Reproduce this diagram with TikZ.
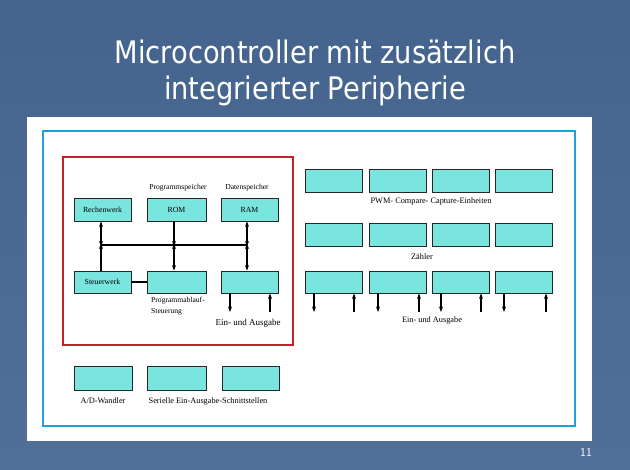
\documentclass[tikz,border=0pt]{standalone}
\usepackage{fontspec}
\setmainfont{Liberation Serif}
\newfontfamily\titlefont[FakeStretch=0.88]{DejaVu Sans}
\usetikzlibrary{arrows.meta}
\definecolor{slidebg}{RGB}{80,112,154}
\definecolor{slidebgdark}{RGB}{68,100,142}
\definecolor{boxfill}{RGB}{122,228,222}
\definecolor{frameblue}{RGB}{30,160,220}
\definecolor{framered}{RGB}{200,30,40}
\tikzset{
  box/.style={draw=black!85, fill=boxfill, line width=0.8pt, inner sep=0pt,
    minimum width=57pt, minimum height=23pt, font=\fontsize{7.8}{8}\selectfont},
  lbl/.style={inner sep=0pt, font=\fontsize{8.3}{9}\selectfont},
  slbl/.style={inner sep=0pt, font=\fontsize{7.6}{10.5}\selectfont},
  arr/.style={line width=1.5pt, -{Stealth[length=5.5pt,width=4pt]}},
  darr/.style={line width=1.5pt, {Stealth[length=5.5pt,width=4pt]}-{Stealth[length=5.5pt,width=4pt]}},
  ttl/.style={inner sep=0pt, text=white, font=\titlefont\fontsize{31}{36}\selectfont},
}
\begin{document}
\begin{tikzpicture}[x=1pt,y=-1pt]
\useasboundingbox (0,0) rectangle (630,470);
\shade[top color=slidebgdark, bottom color=slidebg] (0,0) rectangle (630,470);
% title
\node[ttl] (t1) at (315,52) {Microcontroller mit zusätzlich};
\node[ttl] (t2) at (315,91) {integrierter Peripherie};
% white panel and frames
\fill[white] (27,117) rectangle (592,441);
\draw[frameblue, line width=2pt] (43,131) rectangle (575,426);
\draw[framered, line width=2pt] (63,157) rectangle (293,345);
% CPU core
\node[box] (rw) at (102.5,209.5) {Rechenwerk};
\node[box, minimum width=59pt] (rom) at (176.5,209.5) {ROM};
\node[box] (ram) at (249.5,209.5) {RAM};
\node[box, minimum height=22pt] (sw) at (102.5,282) {Steuerwerk};
\node[box, minimum width=59pt, minimum height=22pt] (pas) at (176.5,282) {};
\node[box, minimum height=22pt] (io) at (249.5,282) {};
\node[slbl] (lps) at (178,188) {Programmspeicher};
\node[slbl] (lds) at (247,188) {Datenspeicher};
\node[slbl, align=left, anchor=north west] (lpa) at (151,297) {Programmablauf-\\Steuerung};
\node[lbl, font=\fontsize{9}{10}\selectfont] (lio) at (248,323) {Ein- und Ausgabe};
% bus
\coordinate (b1) at (101,245);
\coordinate (b2) at (174,245);
\coordinate (b3) at (247,245);
\draw[line width=2.4pt] (b1) -- (b3);
\draw[darr] (rw.south -| b1) -- ([yshift=-1.5pt]b1);
\draw[arr] (sw.north -| b1) -- ([yshift=1.5pt]b1);
\draw[arr] (rom.south -| b2) -- ([yshift=-1.5pt]b2);
\draw[darr] ([yshift=1.5pt]b2) -- (pas.north -| b2);
\draw[darr] (ram.south -| b3) -- ([yshift=-1.5pt]b3);
\draw[darr] ([yshift=1.5pt]b3) -- (io.north -| b3);
\draw[line width=1.5pt] (sw.east) -- (pas.west);
\coordinate (io1) at (230,312);
\coordinate (io2) at (270,312);
\draw[arr] (io.south -| io1) -- (io1);
\draw[arr] (io2) -- (io.south -| io2);
% peripherals
\foreach \i/\x in {1/334,2/397.5,3/460.5,4/523.5}{
  \node[box] (p\i) at (\x,180.5) {};
  \node[box] (z\i) at (\x,234.5) {};
  \node[box, minimum height=22pt] (e\i) at (\x,282) {};
}
\foreach \i/\xa/\xb in {1/314/354,2/378/419,3/441/481,4/504/546}{
  \coordinate (ed\i) at (\xa,312);
  \coordinate (eu\i) at (\xb,312);
  \draw[arr] (e\i.south -| ed\i) -- (ed\i);
  \draw[arr] (eu\i) -- (e\i.south -| eu\i);
}
\node[lbl] (lpwm) at (431,202) {PWM- Compare- Capture-Einheiten};
\node[lbl] (lz) at (422,257) {Zähler};
\node[lbl] (le) at (432,321) {Ein- und Ausgabe};
% bottom row
\node[box, minimum width=58pt, minimum height=24pt] (ad) at (103,378) {};
\node[box, minimum width=59pt, minimum height=24pt] (s1) at (176.5,378) {};
\node[box, minimum width=57pt, minimum height=24pt] (s2) at (250.5,378) {};
\node[lbl] (lad) at (103,401) {A/D-Wandler};
\node[lbl] (ls) at (208,402) {Serielle Ein-Ausgabe-Schnittstellen};
% page number
\node[inner sep=0pt, text=white, font=\sffamily\fontsize{12}{13}\selectfont] (pn) at (586,452) {11};
\end{tikzpicture}
\end{document}
